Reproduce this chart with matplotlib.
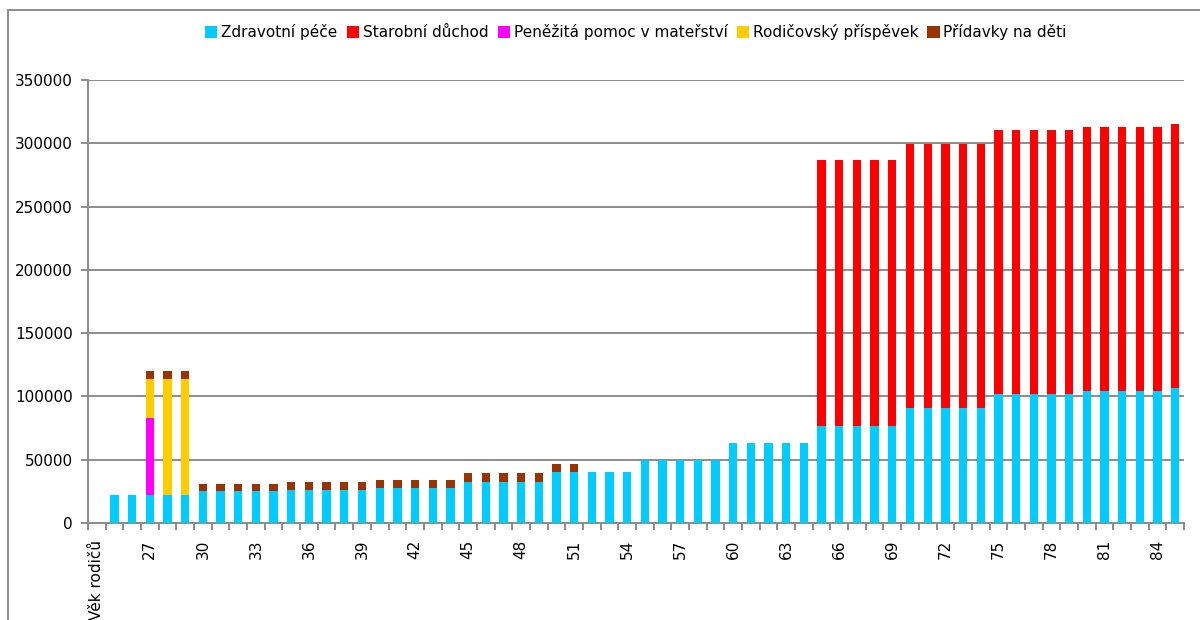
import numpy as np
import matplotlib
matplotlib.use("Agg")
import matplotlib.pyplot as plt
from matplotlib.lines import Line2D
from matplotlib.ticker import FixedLocator, NullFormatter

plt.rcParams['font.family'] = ['DejaVu Sans']

categories = ["Věk rodičů"] + [str(a) for a in range(25, 86)]

# values per category (first category is the axis caption, no bar)
zdravotni = [0,
    22500, 22500, 22500, 22500, 22500,
    25000, 25000, 25000, 25000, 25000,
    26000, 26000, 26000, 26000, 26000,
    27500, 27500, 27500, 27500, 27500,
    32400, 32400, 32400, 32400, 32400,
    40000, 40000, 40000, 40000, 40000,
    50000, 50000, 50000, 50000, 50000,
    63000, 63000, 63000, 63000, 63000,
    77000, 77000, 77000, 77000, 77000,
    91000, 91000, 91000, 91000, 91000,
    102000, 102000, 102000, 102000, 102000,
    104500, 104500, 104500, 104500, 104500,
    107000]
starobni = [0] * 41 + [210000] * 5 + [208700] * 5 + [208300] * 5 + [208300] * 5 + [208200]
materstvi = [0, 0, 0, 60500] + [0] * 58
rodicovsky = [0, 0, 0, 30600, 91100, 91100] + [0] * 56
pridavky = ([0, 0, 0, 6400, 6400, 6400] + [6200] * 5 + [6000] * 5 + [6100] * 5
            + [6800] * 5 + [6300, 6300] + [0] * 34)

series = [
    ("Zdravotní péče", zdravotni, "#00CCFF"),
    ("Starobní důchod", starobni, "#FF0000"),
    ("Peněžitá pomoc v mateřství", materstvi, "#FF00FF"),
    ("Rodičovský příspěvek", rodicovsky, "#FFCC00"),
    ("Přídavky na děti", pridavky, "#993300"),
]

fig = plt.figure(figsize=(12, 6.2), dpi=100)
ax = fig.add_axes([88 / 1200, 1 - 523 / 620, (1184 - 88) / 1200, (523 - 80) / 620])

x = np.arange(len(categories))
bottom = np.zeros(len(categories))
handles = []
for name, vals, col in series:
    v = np.array(vals, dtype=float)
    b = ax.bar(x, v, 0.47, bottom=bottom, color=col, label=name, zorder=3, linewidth=0)
    bottom += v
    handles.append(b)

gridc = "#8c8c8c"
ax.set_xlim(-0.5, len(categories) - 0.5)
ax.set_ylim(0, 350000)
ax.set_yticks(np.arange(0, 350001, 50000))
ax.set_yticklabels([str(v) for v in range(0, 350001, 50000)], fontsize=11)
ax.yaxis.grid(True, color=gridc, linewidth=1.4, zorder=0)
ax.set_axisbelow(True)

ax.set_xticks(x[::3])
ax.set_xticklabels(categories[::3], rotation=90, fontsize=11, va="top", ha="center")
ax.xaxis.set_minor_locator(FixedLocator(np.arange(-0.5, len(categories), 1.0)))
ax.xaxis.set_minor_formatter(NullFormatter())
ax.tick_params(axis="x", which="major", length=0, pad=12)
ax.tick_params(axis="x", which="minor", length=5, width=1.4, color=gridc, direction="out")
ax.tick_params(axis="y", length=5, width=1.4, color=gridc, pad=6)

for s in ["top", "right"]:
    ax.spines[s].set_visible(False)
for s in ["left", "bottom"]:
    ax.spines[s].set_color(gridc)
    ax.spines[s].set_linewidth(1.4)

leg = fig.legend(handles=handles, loc="center", bbox_to_anchor=(636 / 1200, 1 - 32 / 620),
                 ncol=5, frameon=False, fontsize=11, handlelength=0.8, handleheight=0.8,
                 handletextpad=0.25, columnspacing=0.6)

# outer chart frame (partially visible)
fig.add_artist(Line2D([8 / 1200, 1], [1 - 10 / 620, 1 - 10 / 620], color=gridc, lw=1.4,
                      transform=fig.transFigure))
fig.add_artist(Line2D([8 / 1200, 8 / 1200], [0, 1 - 10 / 620], color=gridc, lw=1.4,
                      transform=fig.transFigure))

fig.savefig("out.png", dpi=100)
